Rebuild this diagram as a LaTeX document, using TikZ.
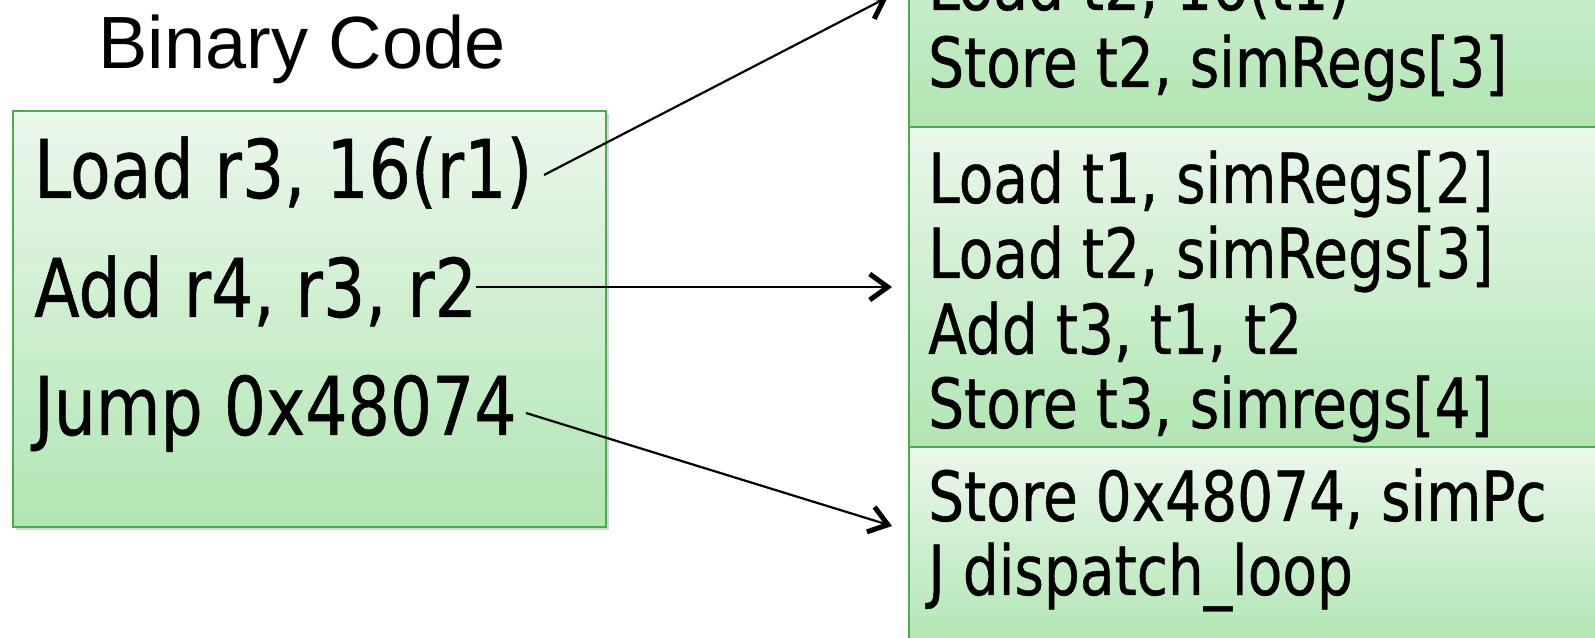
\documentclass[tikz,border=0pt]{standalone}
\usepackage{fontspec}
\setmainfont{DejaVu Sans}[FakeStretch=0.82,FakeBold=0.6]
\newfontfamily\titlefont{Liberation Sans}
\usetikzlibrary{arrows.meta,shadows}

\definecolor{boxtop}{HTML}{EBF7EB}
\definecolor{boxbot}{HTML}{B0E6B2}
\definecolor{boxline}{HTML}{4DAA4D}

\tikzset{
  x=1pt, y=1pt,
  codebox/.style={draw=boxline, line width=2pt, top color=boxtop, bottom color=boxbot,
    rectangle, inner sep=0pt, anchor=north west},
  leftline/.style={anchor=base west, inner sep=0pt, font=\fontsize{81}{96}\selectfont},
  rightline/.style={anchor=base west, inner sep=0pt, font=\fontsize{69}{82}\selectfont},
  link/.style={line width=2.2pt, -{Straight Barb[length=18pt,width=26pt,line width=5pt]}},
}

\begin{document}
\begin{tikzpicture}
\path[use as bounding box] (0,0) rectangle (1595,637);
\clip (0,0) rectangle (1595,637);

% title
\node[font=\titlefont\fontsize{74}{88}\selectfont, anchor=base, inner sep=0pt] (title) at (302,568) {Binary Code};

% source instructions
\node[codebox, minimum width=593pt, minimum height=416pt,
      drop shadow={shadow xshift=3pt, shadow yshift=-3pt, opacity=0.35, fill=black!45}] (src) at (12,527) {};
\node[leftline] (l1) at (34,439) {Load r3, 16(r1)};
\node[leftline] (l2) at (34,320) {Add r4, r3, r2};
\node[leftline] (l3) at (34,202) {Jump 0x48074};

% translated blocks
\node[codebox, minimum width=732pt, minimum height=320pt] (tblk) at (908,831) {};
\node[codebox, minimum width=732pt, minimum height=320pt] (mblk) at (908,511) {};
\node[codebox, minimum width=732pt, minimum height=200pt] (bblk) at (908,191) {};

\node[rightline] (t1) at (928,627) {Load t2, 16(t1)};
\node[rightline] (t2) at (928,550) {Store t2, simRegs[3]};

\node[rightline] (m1) at (928,434) {Load t1, simRegs[2]};
\node[rightline] (m2) at (928,359) {Load t2, simRegs[3]};
\node[rightline] (m3) at (928,283) {Add t3, t1, t2};
\node[rightline] (m4) at (928,209) {Store t3, simregs[4]};

\node[rightline] (b1) at (928,116) {Store 0x48074, simPc};
\node[rightline] (b2) at (928,42) {J dispatch\_loop};

% connector end points
\coordinate (s1) at (544,462);
\coordinate (s2) at (476,350);
\coordinate (s3) at (526,224);
\coordinate (e1) at (888,640);
\coordinate (e2) at (892,350);
\coordinate (e3) at (892,111);

\draw[link] (s1) -- (e1);
\draw[link] (s2) -- (e2);
\draw[link] (s3) -- (e3);
\end{tikzpicture}
\end{document}
